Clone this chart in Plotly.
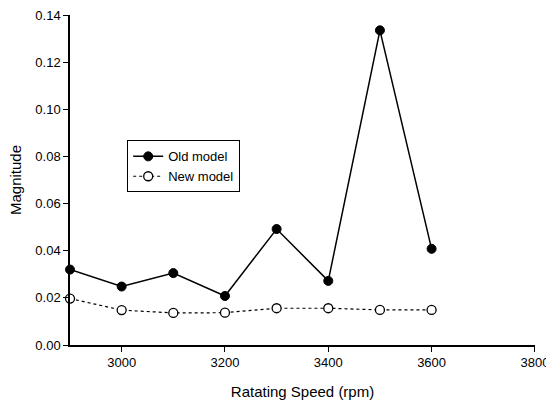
import plotly.graph_objects as go

speed = [2900, 3000, 3100, 3200, 3300, 3400, 3500, 3600]
old_model = [0.032, 0.0248, 0.0305, 0.0208, 0.0492, 0.0272, 0.1335, 0.0408]
new_model = [0.0197, 0.0148, 0.0136, 0.0137, 0.0156, 0.0156, 0.0149, 0.0149]

x_ticks = [3000, 3200, 3400, 3600, 3800]
y_ticks = [0.00, 0.02, 0.04, 0.06, 0.08, 0.10, 0.12, 0.14]

fig = go.Figure()
fig.add_trace(go.Scatter(
    x=speed, y=old_model, name="Old model", mode="lines+markers",
    line=dict(color="black", width=1.5),
    marker=dict(symbol="circle", size=9, color="black", line=dict(color="black", width=1)),
    cliponaxis=False,
))
fig.add_trace(go.Scatter(
    x=speed, y=new_model, name="New model", mode="lines+markers",
    line=dict(color="black", width=1.2, dash="dot"),
    marker=dict(symbol="circle", size=9, color="white", line=dict(color="black", width=1.3)),
    cliponaxis=False,
))

fig.update_layout(
    width=546, height=403,
    margin=dict(l=70, r=11, t=15, b=58),
    paper_bgcolor="white", plot_bgcolor="white",
    font=dict(family="Liberation Sans, Arial, sans-serif", size=13, color="black"),
    showlegend=True,
    legend=dict(
        x=0.123, y=0.62, xanchor="left", yanchor="top",
        bgcolor="white", bordercolor="black", borderwidth=1,
        font=dict(size=13), tracegroupgap=0, itemwidth=30,
    ),
    xaxis=dict(
        range=[2900, 3800.2], tickvals=x_ticks, ticktext=[str(v) for v in x_ticks],
        showline=True, linecolor="black", linewidth=1.5, ticks="outside",
        ticklen=5, tickcolor="black", showgrid=False, zeroline=False,
        ticklabeloverflow="allow", automargin=False,
        title=dict(text="Ratating Speed (rpm)", standoff=17, font=dict(size=15)),
    ),
    yaxis=dict(
        range=[0, 0.14], tickvals=y_ticks, ticktext=[f"{v:.2f}" for v in y_ticks],
        showline=True, linecolor="black", linewidth=1.5, ticks="outside",
        ticklen=5, tickcolor="black", showgrid=False, zeroline=False,
        automargin=False,
        title=dict(text="Magnitude", standoff=10, font=dict(size=15)),
    ),
)

fig.write_html("out.html")
